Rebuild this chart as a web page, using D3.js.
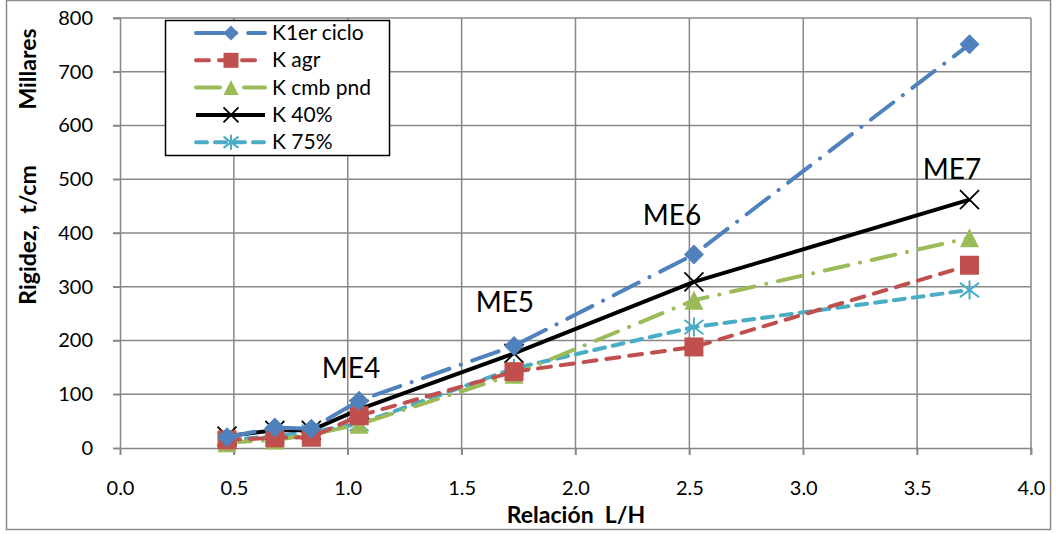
<!DOCTYPE html>
<html>
<head>
<meta charset="utf-8">
<script src="https://cdn.jsdelivr.net/npm/d3@7"></script>
<style>
  body { margin: 0; background: #fff; }
  svg { font-family: Lato, "Open Sans", sans-serif; }
</style>
</head>
<body>
<div id="chart"></div>
<script>
// L/H ratio for each specimen
var relacion = [0.47, 0.68, 0.84, 1.05, 1.73, 2.52, 3.73];

// stiffness series (thousands of t/cm)
var k1erCiclo = [20, 38, 36, 88, 190, 360, 751];
var kAgr      = [15, 19, 20, 60, 142, 188, 340];
var kCmbPnd   = [10, 15, 25, 44, 137, 275, 391];
var k40       = [22, 33, 33, 72, 176, 309, 462];
var k75       = [15, 22, 30, 45, 148, 225, 294];

var seriesNames = ["K1er ciclo", "K agr", "K cmb pnd", "K 40%", "K 75%"];

var xTicks = [0, 0.5, 1, 1.5, 2, 2.5, 3, 3.5, 4];
var yTicks = [0, 100, 200, 300, 400, 500, 600, 700, 800];

// ME labels (text, x, y in data units)
var meNames = ["ME4", "ME5", "ME6", "ME7"];
var meX = [1.014, 1.69, 2.424, 3.653];
var meY = [130, 253, 415, 500];

var W = 1056, H = 534;
var margin = {top: 18, right: 25, bottom: 86, left: 120};

var svg = d3.select("#chart").append("svg")
    .attr("width", W)
    .attr("height", H);

// outer frame
svg.append("rect")
    .attr("x", 6.5).attr("y", 0.5)
    .attr("width", W - 12).attr("height", H - 5)
    .attr("fill", "#fff")
    .attr("stroke", "#8c8c8c")
    .attr("stroke-width", 1.5);

var x = d3.scaleLinear().domain([0, 4]).range([margin.left, W - margin.right]);
var y = d3.scaleLinear().domain([0, 800]).range([H - margin.bottom, margin.top]);

//gridlines
svg.append("g").selectAll("line.vg")
    .data(xTicks.slice(1))
    .enter().append("line")
    .attr("x1", function (d) { return x(d); })
    .attr("x2", function (d) { return x(d); })
    .attr("y1", y(800)).attr("y2", y(0) + 7)
    .attr("stroke", "#878787").attr("stroke-width", 1.5);

svg.append("g").selectAll("line.hg")
    .data(yTicks.slice(1))
    .enter().append("line")
    .attr("x1", x(0) - 7).attr("x2", x(4))
    .attr("y1", function (d) { return y(d); })
    .attr("y2", function (d) { return y(d); })
    .attr("stroke", "#878787").attr("stroke-width", 1.5);

// axes
var xAxis = svg.append("g")
    .attr("transform", "translate(0," + y(0) + ")")
    .call(d3.axisBottom(x).tickValues(xTicks).tickFormat(d3.format(".1f")).tickSize(7).tickPadding(10));
var yAxis = svg.append("g")
    .attr("transform", "translate(" + x(0) + ",0)")
    .call(d3.axisLeft(y).tickValues(yTicks).tickSize(7).tickPadding(20));

[xAxis, yAxis].forEach(function (a) {
    a.select(".domain").attr("stroke", "#878787").attr("stroke-width", 1.5);
    a.selectAll(".tick line").attr("stroke", "#878787").attr("stroke-width", 1.5);
    a.selectAll("text").attr("font-size", 20).attr("fill", "#000")
        .attr("font-family", "Lato, 'Open Sans', sans-serif");
});
// x tick labels: baseline around y=495
xAxis.selectAll("text").attr("y", 47).attr("dy", null);

// axis titles
svg.append("text")
    .attr("x", 576).attr("y", 523)
    .attr("text-anchor", "middle")
    .attr("font-size", 23).attr("font-weight", "bold")
    .style("white-space", "pre")
    .text("Relación  L/H");

svg.append("text")
    .attr("transform", "translate(36,235) rotate(-90)")
    .attr("text-anchor", "middle")
    .attr("font-size", 23).attr("font-weight", "bold")
    .style("white-space", "pre")
    .text("Rigidez,  t/cm");

svg.append("text")
    .attr("transform", "translate(36,69) rotate(-90)")
    .attr("text-anchor", "middle")
    .attr("font-size", 23).attr("font-weight", "bold")
    .text("Millares");

// series styling
var seriesData = [k1erCiclo, kAgr, kCmbPnd, k40, k75];
var colors = ["#4F81BD", "#C0504D", "#9BBB59", "#000000", "#4BACC6"];
var dashes = ["28,12,0.1,12", "13,10", "24,12,0.1,12", null, "11,8"];
var caps = ["round", "round", "round", "butt", "round"];
var markers = ["diamond", "square", "triangle", "x", "star"];

function drawMarker(g, type, color, r) {
    if (type === "diamond") {
        g.append("path").attr("d", "M0," + (-r) + "L" + r + ",0L0," + r + "L" + (-r) + ",0Z").attr("fill", color);
    } else if (type === "square") {
        g.append("rect").attr("x", -r).attr("y", -r).attr("width", 2 * r).attr("height", 2 * r).attr("fill", color);
    } else if (type === "triangle") {
        g.append("path").attr("d", "M0," + (-r) + "L" + r + "," + r + "L" + (-r) + "," + r + "Z").attr("fill", color);
    } else if (type === "x") {
        g.append("path").attr("d", "M" + (-r) + "," + (-r) + "L" + r + "," + r + "M" + (-r) + "," + r + "L" + r + "," + (-r))
            .attr("stroke", color).attr("stroke-width", 1.8);
    } else if (type === "star") {
        g.append("path").attr("d", "M" + (-r) + "," + (-r * 0.75) + "L" + r + "," + (r * 0.75) +
                "M" + (-r) + "," + (r * 0.75) + "L" + r + "," + (-r * 0.75) + "M0," + (-r) + "L0," + r)
            .attr("stroke", color).attr("stroke-width", 2);
    }
}

var line = d3.line()
    .x(function (d) { return x(d[0]); })
    .y(function (d) { return y(d[1]); });

// draw lines in reverse order so K1er ciclo ends up on top
for (var s = seriesData.length - 1; s >= 0; s--) {
    var pts = relacion.map(function (r, i) { return [r, seriesData[s][i]]; });
    svg.append("path")
        .datum(pts)
        .attr("d", line)
        .attr("fill", "none")
        .attr("stroke", colors[s])
        .attr("stroke-width", 4)
        .attr("stroke-linecap", caps[s])
        .attr("stroke-dasharray", dashes[s]);
    pts.forEach(function (p) {
        var g = svg.append("g").attr("transform", "translate(" + x(p[0]) + "," + y(p[1]) + ")");
        drawMarker(g, markers[s], colors[s], markers[s] === "diamond" ? 10 : 9.5);
    });
}

// ME labels
svg.append("g").selectAll("text")
    .data(meNames)
    .enter().append("text")
    .attr("x", function (d, i) { return x(meX[i]); })
    .attr("y", function (d, i) { return y(meY[i]); })
    .attr("text-anchor", "middle")
    .attr("font-size", 28)
    .text(function (d) { return d; });

// legend
var legend = svg.append("g").attr("transform", "translate(165,20)");
legend.append("rect")
    .attr("x", 0.5).attr("y", 0.5)
    .attr("width", 224).attr("height", 135)
    .attr("fill", "#fff").attr("stroke", "#000").attr("stroke-width", 1.5);

seriesNames.forEach(function (name, i) {
    var ly = 13 + i * 27.3;
    legend.append("line")
        .attr("x1", 31).attr("x2", 100)
        .attr("y1", ly).attr("y2", ly)
        .attr("stroke", colors[i])
        .attr("stroke-width", 4)
        .attr("stroke-linecap", caps[i])
        .attr("stroke-dasharray", dashes[i]);
    var g = legend.append("g").attr("transform", "translate(66," + ly + ")");
    drawMarker(g, markers[i], colors[i], 7.5);
    legend.append("text")
        .attr("x", 107).attr("y", ly + 7)
        .attr("font-size", 21)
        .text(name);
});
</script>
</body>
</html>
